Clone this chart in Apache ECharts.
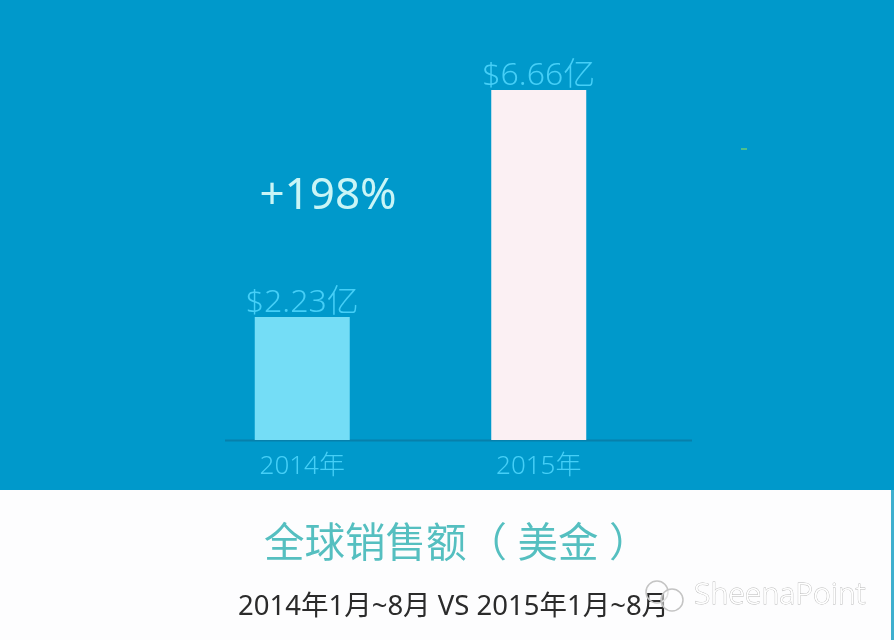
<!DOCTYPE html>
<html>
<head>
<meta charset="utf-8">
<style>
  html, body { margin: 0; padding: 0; background: #0099cb; }
  #main { width: 894px; height: 640px; }
</style>
<script src="https://cdn.jsdelivr.net/npm/echarts@6/dist/echarts.min.js"></script>
</head>
<body>
<div id="main"></div>
<script>
var years = ['2014年', '2015年'];
var sales = [2.23, 6.66];
var barColors = ['#74ddf6', '#fbf0f3'];
var growth = '+198%';
var caption = '全球销售额（ 美金 ）';
var period = '2014年1月~8月 VS 2015年1月~8月';
var watermark = 'SheenaPoint';

var font = "'Noto Sans','Noto Sans CJK SC',sans-serif";
var chart = echarts.init(document.getElementById('main'));

chart.setOption({
  animation: false,
  backgroundColor: '#0099cb',
  grid: { left: 184, right: 237, top: 90, bottom: 200 },
  xAxis: {
    type: 'category',
    data: years,
    axisLine: { show: false },
    axisTick: { show: false },
    axisLabel: { color: '#45cff7', fontSize: 26, fontFamily: font, fontWeight: 300, margin: 14 }
  },
  yAxis: { type: 'value', min: -0.17, max: 6.66, startValue: -0.17, show: false },
  series: [{
    type: 'bar',
    barWidth: 95,
    data: sales.map(function (v, i) {
      return { value: v, itemStyle: { color: barColors[i] } };
    }),
    label: {
      show: true,
      position: 'top',
      distance: -2,
      color: '#45cff7',
      fontSize: 32,
      fontFamily: font,
      fontWeight: 300,
      formatter: function (p) { return '$' + p.value.toFixed(2) + '亿'; }
    }
  }],
  graphic: [
    { type: 'line', shape: { x1: 225, y1: 440.5, x2: 692, y2: 440.5 }, style: { stroke: '#0780ab', lineWidth: 2 }, z: -1 },
    { type: 'text', x: 328, y: 196, style: { text: growth, fill: '#c9f5f6', font: '400 44px ' + font, align: 'center', verticalAlign: 'middle' } },
    { type: 'rect', shape: { x: 741, y: 148, width: 6, height: 2 }, style: { fill: '#4fc08d' } },
    // white caption panel
    { type: 'rect', shape: { x: 0, y: 490, width: 891, height: 150 }, style: { fill: '#fdfdfe' } },
    { type: 'rect', shape: { x: 891, y: 490, width: 3, height: 150 }, style: { fill: '#3fb0cf' } },
    { type: 'text', x: 264, y: 545, style: { text: caption, fill: '#55bfc0', font: '400 40.5px ' + font, verticalAlign: 'middle' } },
    { type: 'text', x: 238, y: 607, style: { text: period, fill: '#2b2b2b', font: '400 27.5px ' + font, verticalAlign: 'middle' } },
    // watermark
    { type: 'circle', shape: { cx: 657, cy: 592, r: 11 }, style: { fill: 'none', stroke: '#c4c4c4', lineWidth: 1.5 } },
    { type: 'circle', shape: { cx: 672, cy: 600, r: 11 }, style: { fill: 'rgba(255,255,255,0.5)', stroke: '#c4c4c4', lineWidth: 1.5 } },
    { type: 'text', x: 694, y: 595, style: { text: watermark, fill: '#ffffff', stroke: '#b8b8b8', lineWidth: 0.8, font: '300 30px ' + font, verticalAlign: 'middle' } }
  ]
});
</script>
</body>
</html>
